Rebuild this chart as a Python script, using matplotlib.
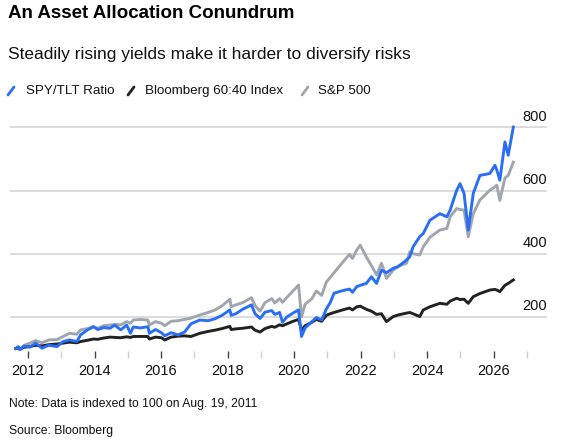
import pandas as pd
import matplotlib.pyplot as plt
import matplotlib.dates as mdates
from matplotlib.lines import Line2D

plt.rcParams['font.family'] = ['Liberation Sans', 'DejaVu Sans']

# Значения (индекс = 100 на 19.08.2011)
dates = [
    "2011-08-19", "2011-09-15", "2011-10-04", "2011-11-20", "2012-01-20", "2012-03-25",
    "2012-06-01", "2012-08-15", "2012-11-15", "2013-01-20", "2013-04-01", "2013-06-20",
    "2013-08-01", "2013-10-15", "2013-12-20", "2014-02-05", "2014-04-10", "2014-06-20",
    "2014-08-10", "2014-10-15", "2014-12-20", "2015-01-30", "2015-03-01", "2015-05-20",
    "2015-08-10", "2015-08-25", "2015-11-01", "2016-01-05", "2016-02-11", "2016-04-20",
    "2016-07-05", "2016-09-15", "2016-11-25", "2017-03-01", "2017-06-01", "2017-08-15",
    "2017-11-01", "2018-01-26", "2018-02-09", "2018-04-01", "2018-06-15", "2018-09-20",
    "2018-10-29", "2018-12-24", "2019-02-15", "2019-05-01", "2019-06-03", "2019-07-26",
    "2019-08-27", "2019-10-15", "2019-12-20", "2020-02-19", "2020-03-23", "2020-05-01",
    "2020-07-15", "2020-09-02", "2020-10-30", "2020-12-20", "2021-02-01", "2021-03-15",
    "2021-06-15", "2021-09-01", "2021-10-04", "2021-11-20", "2021-12-28", "2022-03-05",
    "2022-04-30", "2022-06-25", "2022-08-18", "2022-10-12", "2022-12-25", "2023-02-15",
    "2023-05-20", "2023-06-25", "2023-07-31", "2023-10-12", "2023-11-20", "2024-02-01",
    "2024-05-20", "2024-08-05", "2024-09-10", "2024-11-20", "2024-12-28", "2025-02-10",
    "2025-03-28", "2025-05-22", "2025-08-03", "2025-11-20", "2026-01-15", "2026-02-05",
    "2026-03-10", "2026-05-05", "2026-06-10", "2026-08-05",
]

spy_tlt = [
    100, 106, 96, 108, 104, 117,
    101, 110, 106, 122, 127, 122,
    143, 159, 169, 160, 166, 164,
    174, 159, 174, 148, 168, 165,
    169, 148, 160, 150, 140, 150,
    143, 152, 178, 190, 188, 194,
    205, 222, 205, 210, 224, 238,
    210, 195, 215, 220, 208, 214,
    183, 200, 212, 222, 138, 165,
    185, 198, 190, 225, 245, 275,
    283, 288, 278, 296, 300, 306,
    327, 306, 348, 340, 354, 359,
    380, 390, 422, 454, 464, 506,
    527, 517, 538, 600, 622, 591,
    475, 591, 648, 654, 680, 665,
    633, 754, 712, 801,
]

bbg_6040 = [
    100, 101, 98, 104, 106, 110,
    108, 112, 114, 117, 120, 118,
    122, 126, 130, 129, 133, 136,
    135, 134, 137, 135, 138, 138,
    138, 130, 136, 134, 127, 136,
    139, 140, 138, 148, 154, 158,
    163, 170, 160, 162, 164, 168,
    158, 152, 163, 170, 167, 175,
    172, 178, 186, 192, 158, 172,
    183, 192, 186, 205, 210, 214,
    222, 228, 222, 232, 234, 224,
    218, 208, 210, 185, 201, 206,
    212, 214, 210, 201, 222, 232,
    243, 240, 250, 259, 255, 256,
    243, 264, 274, 285, 287, 285,
    280, 300, 306, 317,
]

sp500 = [
    100, 104, 97, 110, 117, 125,
    118, 127, 128, 138, 148, 145,
    159, 163, 169, 164, 172, 174,
    176, 175, 185, 180, 190, 192,
    190, 174, 185, 180, 172, 186,
    188, 192, 196, 206, 214, 222,
    235, 256, 232, 238, 245, 261,
    236, 218, 245, 258, 244, 258,
    246, 262, 282, 301, 200, 240,
    258, 282, 268, 310, 325, 340,
    372, 398, 385, 412, 427, 390,
    362, 333, 370, 322, 348, 360,
    370, 406, 400, 396, 422, 452,
    475, 480, 517, 543, 540, 538,
    454, 527, 570, 601, 612, 617,
    569, 640, 648, 690,
]

series_names = ["SPY/TLT Ratio", "Bloomberg 60:40 Index", "S&P 500"]
series_colors = ["#2a6ef5", "#222222", "#a0a6ae"]
y_ticks = [200, 400, 600, 800]

df = pd.DataFrame({
    "date": pd.to_datetime(dates),
    series_names[0]: spy_tlt,
    series_names[1]: bbg_6040,
    series_names[2]: sp500,
})

W, H = 563, 444
fig = plt.figure(figsize=(W / 100, H / 100), dpi=100)
ax = fig.add_axes([10 / W, 1 - 351 / H, 537 / W, 240 / H])

# серый рисуется первым, синий — поверх
for name, color in [(series_names[2], series_colors[2]),
                    (series_names[1], series_colors[1]),
                    (series_names[0], series_colors[0])]:
    ax.plot(df["date"], df[name], color=color, lw=2.1, solid_joinstyle='round')

ax.set_ylim(92, 852)
ax.set_xlim(mdates.datestr2num("2011-06-17"), mdates.datestr2num("2027-08-10"))

for v in y_ticks:
    ax.axhline(v, color="#d9d9d9", lw=1.3, zorder=0)
    ax.annotate(str(v), xy=(1.0, v), xycoords=ax.get_yaxis_transform(),
                xytext=(0, 2.5), textcoords="offset points", ha="right",
                va="bottom", fontsize=10.5, color="#111111")
ax.set_yticks([])

for s in ax.spines.values():
    s.set_visible(False)

ax.xaxis.set_major_locator(mdates.YearLocator(2))
ax.xaxis.set_minor_locator(mdates.YearLocator(1))
ax.xaxis.set_major_formatter(mdates.DateFormatter("%Y"))
ax.tick_params(axis="x", which="major", length=5, width=1, color="#444444",
               labelsize=10.5, labelcolor="#111111", pad=4)
ax.tick_params(axis="x", which="minor", length=5, width=1, color="#d0d0d0")

# заголовки
fig.text(8 / W, 1 - 13 / H, "An Asset Allocation Conundrum", fontsize=13.5,
         fontweight="bold", va="center", ha="left", color="#000000")
fig.text(8 / W, 1 - 54 / H, "Steadily rising yields make it harder to diversify risks",
         fontsize=12.5, va="center", ha="left", color="#111111")

# легенда с косыми чёрточками
icon_x = [8, 128, 302]
label_x = [26, 145, 318]
for x0, xt, name, color in zip(icon_x, label_x, series_names, series_colors):
    fig.add_artist(Line2D([x0 / W, (x0 + 6) / W], [1 - 95 / H, 1 - 87 / H],
                          transform=fig.transFigure, color=color, lw=2,
                          solid_capstyle="round"))
    fig.text(xt / W, 1 - 91 / H, name, fontsize=9.6, va="center",
             ha="left", color="#111111")

fig.text(9 / W, 1 - 404 / H, "Note: Data is indexed to 100 on Aug. 19, 2011",
         fontsize=8.7, va="center", ha="left", color="#111111")
fig.text(9 / W, 1 - 431 / H, "Source: Bloomberg", fontsize=8.7, va="center",
         ha="left", color="#111111")

fig.savefig("out.png", dpi=100)
